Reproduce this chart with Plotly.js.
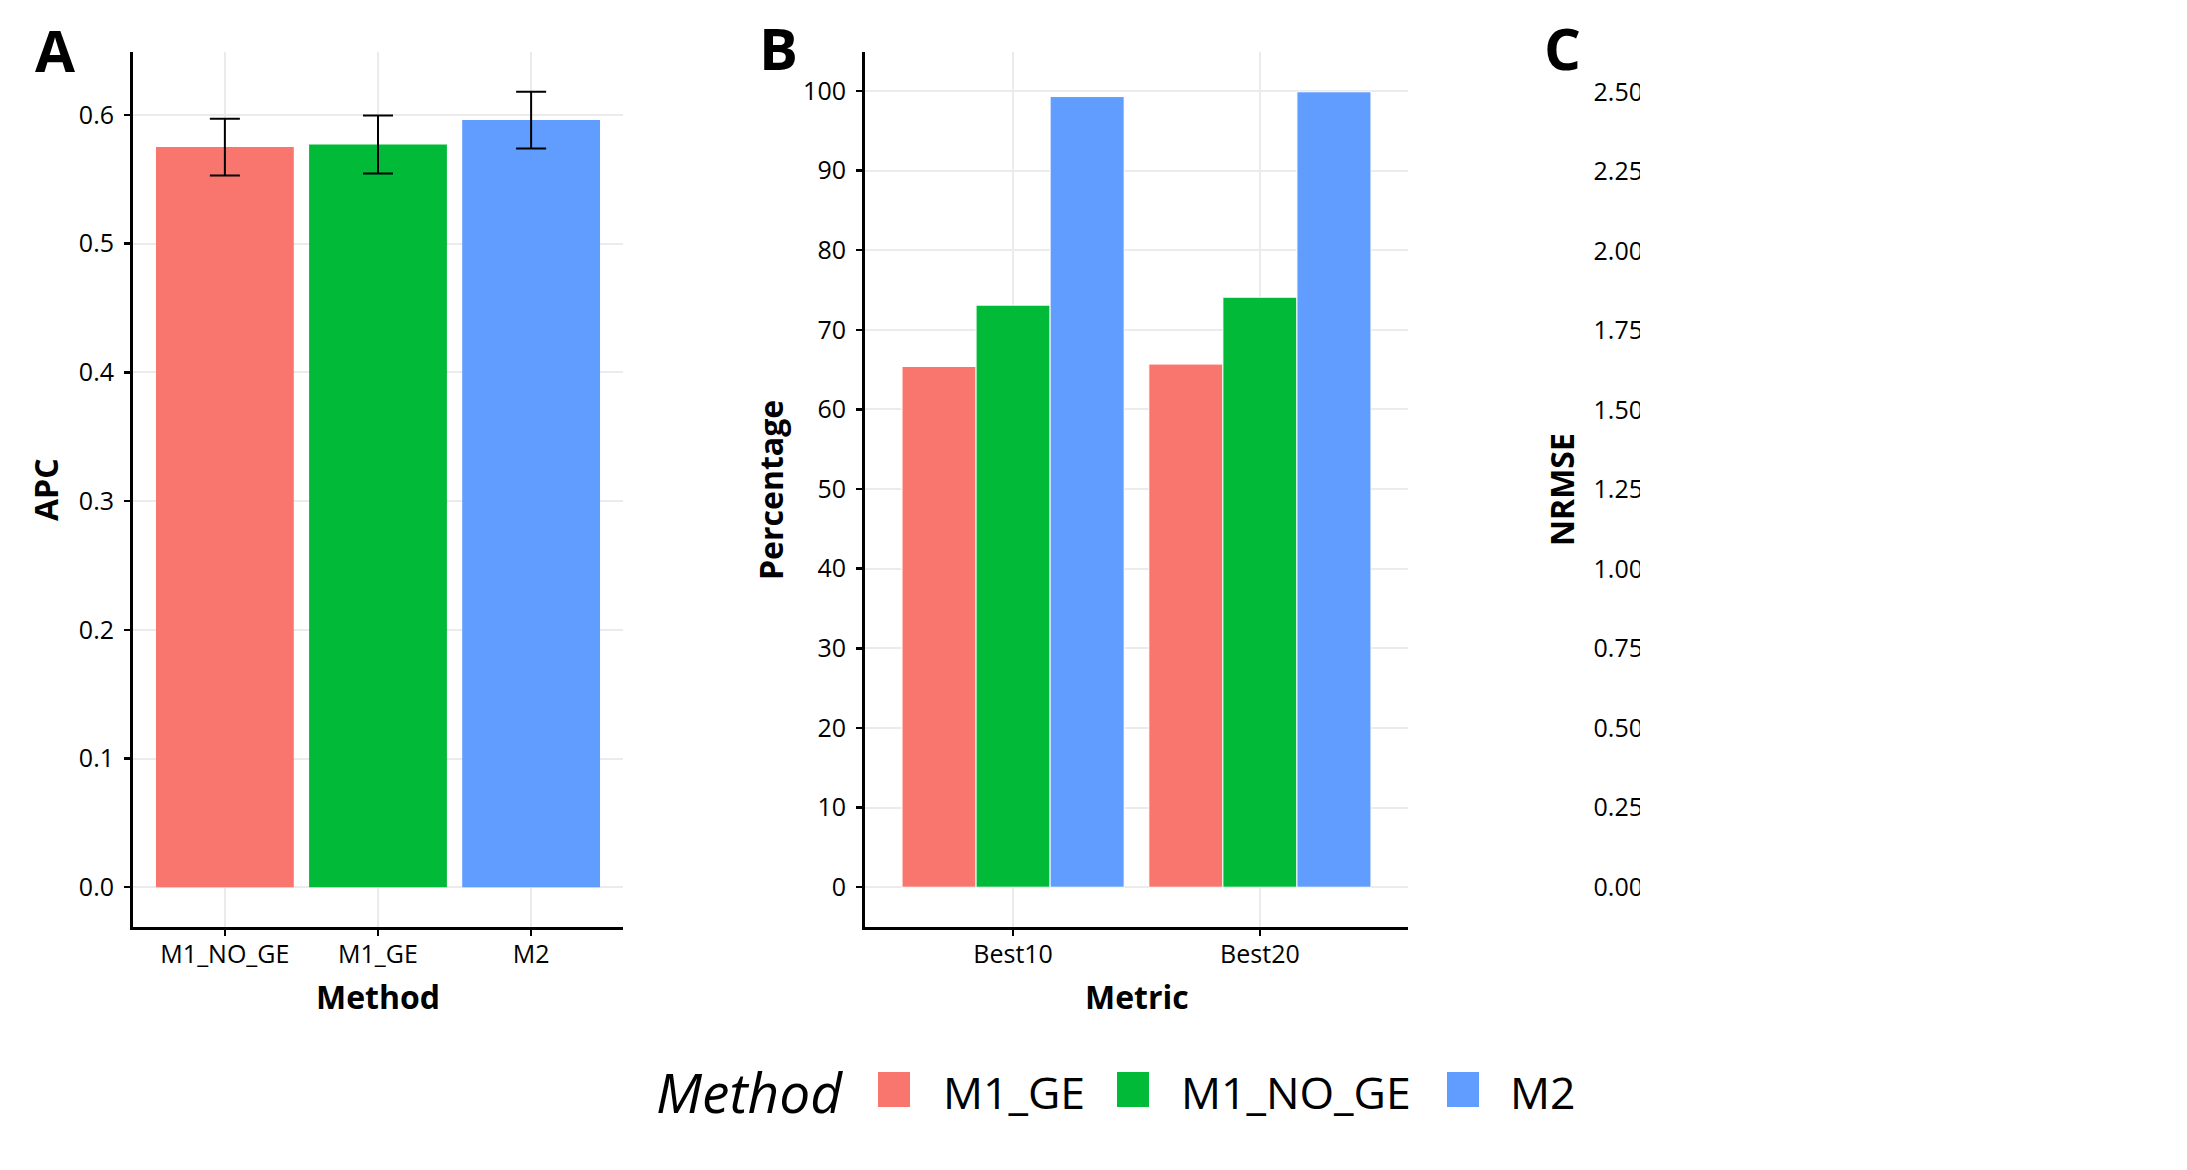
<!DOCTYPE html>
<html>
<head>
<meta charset="utf-8">
<script src="https://cdn.plot.ly/plotly-3.0.1.min.js"></script>
<style>
  html, body { margin: 0; padding: 0; background: #ffffff; }
  #chart { width: 2187px; height: 1170px; }
</style>
</head>
<body>
<div id="chart"></div>
<script>
// ---------------- DATA ----------------
// Panel A: APC by method (mean and error half-width)
const apcMethods = ['M1_NO_GE', 'M1_GE', 'M2'];
const apcValues  = [0.575, 0.577, 0.596];
const apcErrors  = [0.022, 0.0225, 0.022];
const apcTicks   = [0.0, 0.1, 0.2, 0.3, 0.4, 0.5, 0.6];

// Panel B: percentage by metric and method
const metrics       = ['Best10', 'Best20'];
const pctM1GE       = [65.4, 65.7];
const pctM1NOGE     = [73.1, 74.1];
const pctM2         = [99.3, 99.9];
const pctTicks      = [0, 10, 20, 30, 40, 50, 60, 70, 80, 90, 100];

// Panel C: NRMSE axis ticks (panel is cut off in the figure)
const nrmseTicks = [0, 0.25, 0.5, 0.75, 1.0, 1.25, 1.5, 1.75, 2.0, 2.25, 2.5];

// Legend
const legendTitle  = 'Method';
const legendNames  = ['M1_GE', 'M1_NO_GE', 'M2'];
const legendColors = ['#F8766D', '#00BA38', '#619CFF'];

// ---------------- LAYOUT HELPERS ----------------
const W = 2187, H = 1170;
const fx = p => p / W;
const fy = p => 1 - p / H;
const FONT = '"Open Sans", "Noto Sans", sans-serif';

const yDom = [fy(927), fy(52)];

function axisStyle(extra) {
  return Object.assign({
    showline: true, linecolor: '#000000', linewidth: 3,
    ticks: 'outside', ticklen: 6, tickwidth: 2.5, tickcolor: '#000000',
    showgrid: true, gridcolor: '#ebebeb', gridwidth: 2,
    zeroline: false, fixedrange: true,
    tickfont: { family: FONT, size: 25, color: '#000000' },
    ticklabelstandoff: 5
  }, extra);
}

// ---------------- TRACES ----------------
const traces = [
  {
    type: 'bar', x: apcMethods, y: apcValues, xaxis: 'x', yaxis: 'y',
    marker: { color: [legendColors[0], legendColors[1], legendColors[2]] },
    error_y: { type: 'data', array: apcErrors, visible: true, color: '#000000', thickness: 2, width: 15 },
    showlegend: false, hoverinfo: 'x+y'
  },
  {
    type: 'bar', name: legendNames[0], x: metrics, y: pctM1GE, xaxis: 'x2', yaxis: 'y2',
    marker: { color: legendColors[0], line: { color: '#ffffff', width: 1 } }, showlegend: false
  },
  {
    type: 'bar', name: legendNames[1], x: metrics, y: pctM1NOGE, xaxis: 'x2', yaxis: 'y2',
    marker: { color: legendColors[1], line: { color: '#ffffff', width: 1 } }, showlegend: false
  },
  {
    type: 'bar', name: legendNames[2], x: metrics, y: pctM2, xaxis: 'x2', yaxis: 'y2',
    marker: { color: legendColors[2], line: { color: '#ffffff', width: 1 } }, showlegend: false
  },
  {
    type: 'scatter', mode: 'markers', x: [], y: [], xaxis: 'x3', yaxis: 'y3', showlegend: false
  }
];

// ---------------- ANNOTATIONS ----------------
const annotations = [
  // panel letters
  { text: 'A', x: fx(55), y: fy(50), xanchor: 'center', yanchor: 'middle' , font: { family: FONT, size: 58, color: '#000', weight: 700 } },
  { text: 'B', x: fx(778), y: fy(48), xanchor: 'center', yanchor: 'middle', font: { family: FONT, size: 58, color: '#000', weight: 700 } },
  { text: 'C', x: fx(1562), y: fy(48), xanchor: 'center', yanchor: 'middle', font: { family: FONT, size: 58, color: '#000', weight: 700 } },
  // axis titles
  { text: '<b>APC</b>', x: fx(45), y: fy(490), textangle: -90, xanchor: 'center', yanchor: 'middle', font: { family: FONT, size: 32, color: '#000' } },
  { text: '<b>Percentage</b>', x: fx(770), y: fy(490), textangle: -90, xanchor: 'center', yanchor: 'middle', font: { family: FONT, size: 32, color: '#000' } },
  { text: '<b>NRMSE</b>', x: fx(1561), y: fy(490), textangle: -90, xanchor: 'center', yanchor: 'middle', font: { family: FONT, size: 32, color: '#000' } },
  { text: '<b>Method</b>', x: fx(378), y: fy(996), xanchor: 'center', yanchor: 'middle', font: { family: FONT, size: 32, color: '#000' } },
  { text: '<b>Metric</b>', x: fx(1137), y: fy(996), xanchor: 'center', yanchor: 'middle', font: { family: FONT, size: 32, color: '#000' } },
  // legend title
  { text: '<i>' + legendTitle + '</i>', x: fx(654), y: fy(1091), xanchor: 'left', yanchor: 'middle', font: { family: FONT, size: 55, color: '#000' } }
];

const legendSquares = [[878, 910], [1117, 1149], [1447, 1479]];
const legendTextX = [941, 1179, 1508];
const shapes = [];
legendNames.forEach((nm, i) => {
  shapes.push({
    type: 'rect', xref: 'paper', yref: 'paper', layer: 'above',
    x0: fx(legendSquares[i][0]), x1: fx(legendSquares[i][1]), y0: fy(1107), y1: fy(1072),
    fillcolor: legendColors[i], line: { width: 0 }
  });
  annotations.push({
    text: nm, x: fx(legendTextX[i]), y: fy(1091), xanchor: 'left', yanchor: 'middle',
    font: { family: FONT, size: 44.5, color: '#000' }
  });
});
// panel C is cut off at the right edge of the figure
shapes.push({
  type: 'rect', xref: 'paper', yref: 'paper', layer: 'above',
  x0: fx(1640), x1: 1, y0: 0, y1: 1, fillcolor: '#ffffff', line: { width: 0 }
});
annotations.forEach(a => { a.xref = 'paper'; a.yref = 'paper'; a.showarrow = false; });

// ---------------- LAYOUT ----------------
const layout = {
  width: W, height: H,
  margin: { l: 0, r: 0, t: 0, b: 0, pad: 0 },
  paper_bgcolor: '#ffffff', plot_bgcolor: '#ffffff',
  font: { family: FONT, color: '#000000' },
  barmode: 'group', bargap: 0.1, bargroupgap: 0,
  showlegend: false,
  xaxis: axisStyle({
    domain: [fx(133), fx(623)], anchor: 'y', type: 'category',
    categoryorder: 'array', categoryarray: apcMethods, range: [-0.6, 2.6],
    ticklabelstandoff: -3
  }),
  yaxis: axisStyle({
    domain: yDom, anchor: 'x', range: [-0.0309, 0.6489],
    tickvals: apcTicks, ticktext: apcTicks.map(v => v.toFixed(1))
  }),
  xaxis2: axisStyle({
    domain: [fx(865), fx(1408)], anchor: 'y2', type: 'category',
    categoryorder: 'array', categoryarray: metrics, range: [-0.6, 1.6],
    ticklabelstandoff: -3
  }),
  yaxis2: axisStyle({
    domain: yDom, anchor: 'x2', range: [-4.995, 104.895],
    tickvals: pctTicks, ticktext: pctTicks.map(v => String(v))
  }),
  xaxis3: axisStyle({
    domain: [fx(1660), fx(2150)], anchor: 'y3', range: [0, 1], visible: false
  }),
  yaxis3: axisStyle({
    domain: yDom, anchor: 'x3', range: [-0.125, 2.625], showgrid: false, showline: false,
    tickvals: nrmseTicks, ticktext: nrmseTicks.map(v => v.toFixed(2))
  }),
  annotations: annotations,
  shapes: shapes
};

Plotly.newPlot('chart', traces, layout, { staticPlot: true, displayModeBar: false });
</script>
</body>
</html>
